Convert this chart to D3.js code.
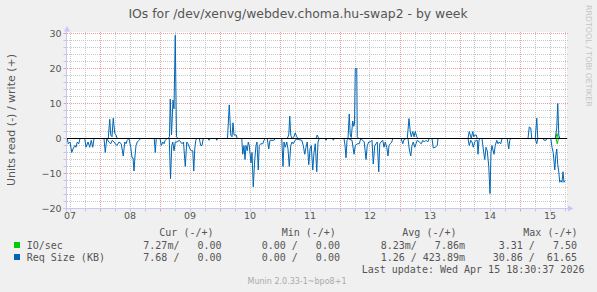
<!DOCTYPE html>
<html>
<head>
<meta charset="utf-8">
<script src="https://cdn.jsdelivr.net/npm/d3@7"></script>
<style>
body { margin: 0; background: #f0f0f0; }
svg { display: block; }
text { font-family: "DejaVu Sans", sans-serif; }
.mono { font-family: "DejaVu Sans Mono", monospace; white-space: pre; }
</style>
</head>
<body>
<svg id="chart"></svg>
<script>
// canvas & plot box
var width = 597, height = 292;
var plot = {left: 67, right: 567, top: 32, bottom: 208.5};

var title = "IOs for /dev/xenvg/webdev.choma.hu-swap2 - by week";
var yTitle = "Units read (-) / write (+)";
var dayLabels = ["07", "08", "09", "10", "11", "12", "13", "14", "15"];
var yTicks = [-20, -10, 0, 10, 20, 30];

// samples: [hours since Apr 7 00:00, value]
// Req Size (KB), write side (+)
var reqWrite = [
  [11, 0], [27.5, 0], [28.1, 5.5], [28.5, 1], [29, 0.5], [29.5, 5.8], [30.1, 1.5], [30.6, 1], [31.1, 0],
  [51.4, 0], [52, 0.5], [52.3, 11.3], [52.8, 1], [53.4, 11], [53.8, 8.5], [54.3, 29.5], [54.8, 0.5], [55.4, 0],
  [75.2, 0], [75.9, 9.6], [76.5, 1], [77, 0.5], [77.4, 4.5], [77.8, 1], [78.2, 1], [78.7, 1], [79.1, 0],
  [99.1, 0], [99.7, 1], [100.1, 6.4], [100.5, 1], [101, 0], [101.8, 0.5], [102.3, 1.6], [102.9, 0.5], [103.4, 0],
  [110.6, 0], [111.1, 1], [111.7, 0],
  [123.4, 0], [123.9, 7], [124.3, 1], [124.7, 0.3], [125.3, 5], [125.7, 3.5], [126, 4], [126.3, 20], [126.9, 20], [127.1, 0.5], [127.7, 0],
  [147.1, 0], [147.8, 5.7], [148.3, 2], [148.7, 0.5], [149.3, 2], [149.8, 0.5], [150.3, 2], [150.9, 0.5], [151.4, 0],
  [171.4, 0], [171.9, 2], [172.3, 1], [172.7, 0], [173.3, 2], [173.7, 0.5], [174.2, 1], [174.7, 1], [175.1, 0],
  [195.4, 0], [195.9, 3.3], [196.5, 3], [196.9, 0],
  [198.3, 0], [198.9, 5.8], [199.3, 0],
  [206.3, 0], [206.9, 3], [207.3, 10], [207.7, 1], [208.1, 0], [210.6, 0]
];
// Req Size (KB), read side (-)
var reqRead = [
  [11, 0], [11.1, 0], [11.5, 1.5], [12.2, 1], [12.9, 4], [13.4, 3], [14.1, 2], [14.6, 2.5], [15.1, 1], [15.7, 1.5], [16.2, 0],
  [18.1, 0], [18.6, 2.5], [19.4, 1], [20.1, 2.5], [20.7, 0.5], [21.3, 2.5], [21.8, 0],
  [25.8, 0], [26.3, 4], [26.9, 0], [27.7, 1], [28.5, 1.5], [29.1, 0.5], [29.8, 1], [30.9, 2], [31.8, 1], [32.7, 1.5],
  [33.5, 5], [34.1, 1], [34.6, 1.5], [35.1, 0.5], [35.8, 0],
  [36.5, 2.5], [37, 5.5], [37.4, 5.5], [37.8, 9.3], [38.2, 5], [38.6, 2], [39.1, 1], [39.8, 0.5], [40.5, 0],
  [45.9, 0], [46.3, 4], [46.7, 0],
  [48.2, 0], [48.7, 2], [49.3, 1], [49.8, 1.5], [50.3, 0.5], [51, 0],
  [51.9, 0], [52.4, 11.5], [52.9, 2], [53.3, 1], [53.8, 3.5], [54.3, 1], [55, 1], [55.9, 0.5], [57, 1.5], [57.6, 1],
  [58.3, 8], [58.9, 1], [59.4, 1.5], [60.2, 3], [60.7, 3.5], [61.3, 3.5], [61.7, 9.3], [62.1, 3], [62.5, 0.5], [62.9, 0],
  [63.9, 0], [64.5, 2], [65, 2], [65.5, 0],
  [67.4, 0], [67.8, 0.5], [68.3, 0], [70.6, 0], [70.9, 0.5], [71.3, 0],
  [80.9, 0], [81.3, 4.5], [81.8, 2], [82.2, 6], [82.6, 2], [83.1, 3.5], [83.5, 1], [83.9, 2], [84.6, 7], [85, 4],
  [85.5, 13.8], [86.1, 6], [86.6, 2], [87, 1], [87.5, 9], [87.9, 2], [88.5, 1.5], [89.3, 1.5], [89.8, 0.5], [90.3, 0],
  [91.1, 0], [91.7, 3], [92.2, 0.5], [93, 0.5], [93.8, 0.5], [94.3, 0],
  [96.9, 0], [97.4, 8], [97.8, 1], [98.3, 2.5], [98.9, 1], [99.4, 3], [99.9, 8], [100.5, 2], [101, 1], [101.5, 1.5],
  [102.2, 0.5], [102.9, 0.2], [104.9, 0.5], [105.5, 2], [106.1, 4.5], [106.6, 2.5], [107.1, 1], [107.7, 7.5], [108.2, 3],
  [108.7, 2], [109.3, 9], [109.8, 4], [110.3, 1.5], [110.9, 9.5], [111.4, 1], [111.9, 0],
  [114.2, 0], [114.6, 0.5], [115.1, 0], [117.3, 0], [117.5, 0.5], [117.9, 0],
  [121.8, 0], [122.2, 2], [122.6, 5.5], [123, 0.5], [123.7, 0], [124.2, 0.3], [125, 0.5], [125.8, 4.5], [126.3, 2],
  [127.1, 1.5], [127.9, 1.5], [128.5, 0], [129.3, 0.5], [129.9, 1], [130.6, 6], [131.1, 2], [131.7, 1], [132.3, 1],
  [133, 0.5], [133.5, 7.3], [134.1, 2], [134.6, 1.5], [135.1, 1], [135.7, 9.5], [136.1, 1.5], [136.6, 1], [137.3, 0.5],
  [137.8, 2.5], [138.3, 1], [138.9, 2.5], [139.4, 5], [139.8, 2], [140.3, 1.5], [140.9, 1], [141.3, 0],
  [144.6, 0], [145.3, 1.5], [145.8, 0.3], [146.6, 0],
  [147.4, 0], [147.9, 3], [148.5, 5], [149, 2], [149.5, 1], [150.1, 2.5], [150.6, 1.5], [151.1, 0.5], [151.9, 1],
  [152.7, 1.5], [153.3, 0.5], [153.9, 1], [154.6, 0.5], [155.3, 1], [155.9, 0],
  [157, 0], [157.5, 2.7], [158.3, 2.5], [159.1, 2], [159.4, 0],
  [171.4, 0], [171.9, 2], [172.5, 0.5], [173, 1], [173.5, 2.5], [174.1, 1], [174.6, 0.5], [175.1, 0.5], [175.4, 4.5],
  [175.8, 0.5], [176.2, 0],
  [177, 0], [177.5, 3], [178.1, 6], [178.6, 2.5], [179.1, 3.5], [179.7, 8], [180.2, 15.7], [180.6, 4], [181, 2],
  [181.3, 3], [181.8, 4.5], [182.3, 2], [182.9, 0.5], [183.4, 1.5], [183.9, 1], [184.5, 1.5], [185, 0],
  [187.1, 0], [187.7, 3], [188.1, 0.5], [188.5, 0],
  [198.3, 0], [198.9, 1.5], [199.3, 0],
  [201.5, 0], [201.8, 0.5], [202.6, 0.5], [203, 0],
  [204.5, 0], [205, 2.5], [205.5, 4], [206.1, 9], [206.5, 5], [206.9, 3], [207.3, 7.5], [207.7, 9.5], [208.1, 12.5],
  [208.5, 12], [209, 12.5], [209.4, 9.5], [209.8, 12.5], [210.3, 12]
];
// IO/sec
var ioWrite = [[11, 0], [206.5, 0], [207, 1.4], [207.5, 0], [210.6, 0]];
var ioRead = [[11, 0], [206.6, 0], [207.1, 1.5], [207.6, 0], [210.6, 0]];

// legend
var seriesNames = ["IO/sec", "Req Size (KB)"];
var seriesColors = ["#00cc00", "#0066b3"];
var legendHeads = ["Cur (-/+)", "Min (-/+)", "Avg (-/+)", "Max (-/+)"];
var curText = ["7.27m/   0.00", "7.68 /   0.00"];
var minText = ["0.00 /   0.00", "0.00 /   0.00"];
var avgText = ["8.23m/   7.86m", "1.26 / 423.89m"];
var maxText = [" 3.31 /   7.50", "30.86 /  61.65"];
var lastUpdate = "Last update: Wed Apr 15 18:30:37 2026";
var footer = "Munin 2.0.33-1~bpo8+1";
var sideText = "RRDTOOL / TOBI OETIKER";

var base = new Date(2026, 3, 7, 0, 0, 0);
function at(h) { return new Date(base.getTime() + h * 3600e3); }

var x = d3.scaleTime()
    .domain([at(11), at(211)])
    .range([plot.left, plot.right]);
var y = d3.scaleLinear()
    .domain([-20, 30])
    .range([208.5, 33.5]);

var svg = d3.select("#chart")
    .attr("width", width)
    .attr("height", height);

svg.append("rect").attr("width", width).attr("height", height).attr("fill", "#f0f0f0");
svg.append("rect")
    .attr("x", plot.left).attr("y", plot.top)
    .attr("width", plot.right - plot.left).attr("height", plot.bottom - plot.top)
    .attr("fill", "#ffffff");

// grid
var minorX = d3.timeHour.every(6).range(at(11), at(211)).filter(function(d){ return d.getHours() != 0; });
var majorX = d3.timeDay.range(at(11), at(211));
var minorY = d3.range(-20, 31, 2).filter(function(v){ return v % 10 != 0; });

var grid = svg.append("g");
grid.selectAll(".vx").data(minorX).enter().append("line")
    .attr("x1", function(d){ return Math.round(x(d)) + 0.5; })
    .attr("x2", function(d){ return Math.round(x(d)) + 0.5; })
    .attr("y1", plot.top).attr("y2", plot.bottom)
    .attr("stroke", "#c8c8c8").attr("stroke-dasharray", "1,1");
grid.selectAll(".hy").data(minorY).enter().append("line")
    .attr("x1", plot.left).attr("x2", plot.right + 1)
    .attr("y1", function(d){ return y(d); }).attr("y2", function(d){ return y(d); })
    .attr("stroke", "#c8c8c8").attr("stroke-dasharray", "1,1");
grid.selectAll(".mx").data(majorX).enter().append("line")
    .attr("x1", function(d){ return Math.round(x(d)) + 0.5; })
    .attr("x2", function(d){ return Math.round(x(d)) + 0.5; })
    .attr("y1", plot.top).attr("y2", plot.bottom)
    .attr("stroke", "#eaa0a0").attr("stroke-dasharray", "1,1");
grid.selectAll(".my").data(yTicks).enter().append("line")
    .attr("x1", plot.left).attr("x2", plot.right + 1)
    .attr("y1", function(d){ return y(d); }).attr("y2", function(d){ return y(d); })
    .attr("stroke", "#eaa0a0").attr("stroke-dasharray", "1,1");

// tick marks
grid.selectAll(".ty").data(d3.range(-20, 31, 2)).enter().append("line")
    .attr("x1", plot.left - 3.5).attr("x2", plot.left - 0.5)
    .attr("y1", function(d){ return y(d); }).attr("y2", function(d){ return y(d); })
    .attr("stroke", function(d){ return d % 10 == 0 ? "#eaa0a0" : "#c8c8c8"; });
grid.selectAll(".tx").data(minorX.concat(majorX)).enter().append("line")
    .attr("x1", function(d){ return Math.round(x(d)) + 0.5; })
    .attr("x2", function(d){ return Math.round(x(d)) + 0.5; })
    .attr("y1", plot.bottom).attr("y2", plot.bottom + 3)
    .attr("stroke", function(d){ return d.getHours() == 0 ? "#eaa0a0" : "#c8c8c8"; });

// series
var line = d3.line()
    .x(function(d){ return x(at(d[0])); })
    .y(function(d){ return y(d[1]); });
var lineNeg = d3.line()
    .x(function(d){ return x(at(d[0])); })
    .y(function(d){ return y(-d[1]); });

svg.append("path").datum(ioWrite).attr("d", line)
    .attr("fill", "none").attr("stroke", seriesColors[0]).attr("stroke-width", 1);
svg.append("path").datum(ioRead).attr("d", lineNeg)
    .attr("fill", "none").attr("stroke", seriesColors[0]).attr("stroke-width", 1);
svg.append("path").datum(reqWrite).attr("d", line)
    .attr("fill", "none").attr("stroke", seriesColors[1]).attr("stroke-width", 1);
svg.append("path").datum(reqRead).attr("d", lineNeg)
    .attr("fill", "none").attr("stroke", seriesColors[1]).attr("stroke-width", 1);

// zero rule
svg.append("line")
    .attr("x1", plot.left).attr("x2", plot.right)
    .attr("y1", y(0)).attr("y2", y(0))
    .attr("stroke", "#000000").attr("stroke-width", 1);

// axes lines + arrows
var axisColor = "#c8c8f4";
svg.append("line")
    .attr("x1", plot.left - 0.5).attr("x2", plot.left - 0.5)
    .attr("y1", plot.bottom + 3).attr("y2", 29)
    .attr("stroke", axisColor);
svg.append("path")
    .attr("d", "M64,31.5 L67,26 L70,31.5 Z").attr("fill", axisColor);
svg.append("line")
    .attr("x1", plot.left - 3).attr("x2", plot.right + 2)
    .attr("y1", plot.bottom).attr("y2", plot.bottom)
    .attr("stroke", axisColor);
svg.append("path")
    .attr("d", "M568,205.5 L573.5,208.5 L568,211.5 Z").attr("fill", axisColor);

// y labels
var yAxis = d3.axisLeft(y).tickValues(yTicks).tickSize(0).tickPadding(0);
var yg = svg.append("g").attr("transform", "translate(" + 61.5 + ",0)").call(yAxis);
yg.select(".domain").remove();
yg.selectAll("text")
    .attr("fill", "#555555").style("font-size", "9.5px")
    .style("font-family", "DejaVu Sans, sans-serif");

// x labels
var noons = dayLabels.map(function(d){ return new Date(2026, 3, +d, 12); });
var xAxis = d3.axisBottom(x).tickValues(noons)
    .tickFormat(function(d, i){ return dayLabels[i]; })
    .tickSize(0).tickPadding(0);
var xg = svg.append("g").attr("transform", "translate(0," + 212 + ")").call(xAxis);
xg.select(".domain").remove();
xg.selectAll("text")
    .attr("fill", "#555555").style("font-size", "9.5px")
    .style("font-family", "DejaVu Sans, sans-serif");

// titles
svg.append("text")
    .attr("x", 298).attr("y", 18.3)
    .attr("text-anchor", "middle")
    .attr("fill", "#555555").style("font-size", "12.4px")
    .text(title);
svg.append("text")
    .attr("transform", "translate(14.5,120) rotate(-90)")
    .attr("text-anchor", "middle")
    .attr("fill", "#555555").style("font-size", "11px")
    .text(yTitle);
svg.append("text")
    .attr("transform", "translate(586,5) rotate(90)")
    .attr("fill", "#c4c4c4").style("font-size", "7.9px")
    .text(sideText);

// legend
var headX = [159.3, 281.7, 402.3, 523.3];
var leg = svg.append("g").attr("fill", "#555555").style("font-size", "10px");
leg.selectAll(".head").data(legendHeads).enter().append("text")
    .attr("class", "mono")
    .attr("x", function(d, i){ return headX[i]; }).attr("y", 236)
    .text(function(d){ return d; });

var rowY = [249, 261];
seriesNames.forEach(function(name, i) {
  leg.append("rect")
      .attr("x", 14).attr("y", rowY[i] - 7)
      .attr("width", 6).attr("height", 6)
      .attr("fill", seriesColors[i]);
  leg.append("text").attr("class", "mono").attr("x", 26.7).attr("y", rowY[i]).text(name);
  leg.append("text").attr("class", "mono").attr("x", 143.3).attr("y", rowY[i]).text(curText[i]);
  leg.append("text").attr("class", "mono").attr("x", 261.7).attr("y", rowY[i]).text(minText[i]);
  leg.append("text").attr("class", "mono").attr("x", 380.7).attr("y", rowY[i]).text(avgText[i]);
  leg.append("text").attr("class", "mono").attr("x", 492.7).attr("y", rowY[i]).text(maxText[i]);
});
leg.append("text").attr("class", "mono").attr("x", 361.7).attr("y", 273).text(lastUpdate);

svg.append("text")
    .attr("x", 297).attr("y", 283.5)
    .attr("text-anchor", "middle")
    .attr("fill", "#aaaaaa").style("font-size", "8px")
    .text(footer);
</script>
</body>
</html>
